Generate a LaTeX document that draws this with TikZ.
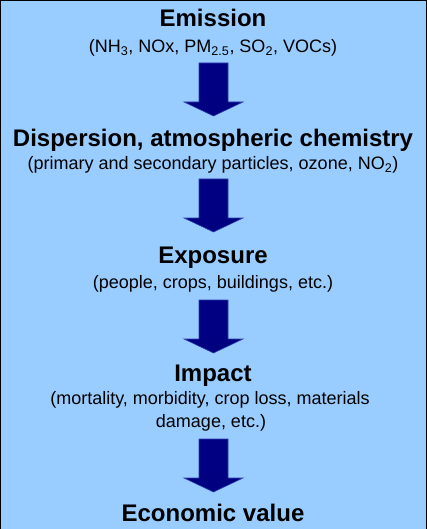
\documentclass[tikz,border=0pt]{standalone}
\usepackage{fontspec}
\setmainfont{Liberation Sans}
\definecolor{bgblue}{HTML}{99CCFF}
\definecolor{navyfill}{HTML}{000080}
\definecolor{navyedge}{HTML}{3040B0}
\begin{document}
\begin{tikzpicture}[x=1pt,y=-1pt,
  title/.style={anchor=base,inner sep=0pt,font=\fontsize{24}{28}\selectfont\bfseries},
  sub/.style={anchor=base,inner sep=0pt,font=\fontsize{18}{23}\selectfont},
  pics/bigarrow/.style={code={
    \filldraw[fill=navyfill,draw=navyedge,line width=0.6pt]
      (-14.5,0) -- (14.5,0) -- (14.5,39) -- (29.5,39) -- (0,53) -- (-29.5,39) -- (-14.5,39) -- cycle;}}]
\useasboundingbox (0,0) rectangle (427,529);
\fill[bgblue] (0,0) rectangle (427,529);
\draw[black,line width=1.2pt] (0.6,529) -- (0.6,0.6) -- (426.4,0.6) -- (426.4,529);
\node[title] (emis) at (213,27) {Emission};
\node[sub] (emissub) at (213,53) {(NH\textsubscript{3}, NOx, PM\textsubscript{2.5}, SO\textsubscript{2}, VOCs)};
\node[title] (disp) at (213,147) {Dispersion, atmospheric chemistry};
\node[sub] (dispsub) at (213,170) {(primary and secondary particles, ozone, NO\textsubscript{2})};
\node[title] (expo) at (213,263) {Exposure};
\node[sub] (exposub) at (213,288) {(people, crops, buildings, etc.)};
\node[title] (imp) at (213,381) {Impact};
\node[sub] (impsub) at (210,404) {(mortality, morbidity, crop loss, materials};
\node[sub] (impsubb) at (211,427) {damage, etc.)};
\node[title] (econ) at (213,521) {Economic value};
\coordinate (a1) at (213.5,63);
\coordinate (a2) at (213.5,179);
\coordinate (a3) at (213.5,300);
\coordinate (a4) at (213.5,439);
\pic at (a1) {bigarrow};
\pic at (a2) {bigarrow};
\pic at (a3) {bigarrow};
\pic at (a4) {bigarrow};
\end{tikzpicture}
\end{document}
